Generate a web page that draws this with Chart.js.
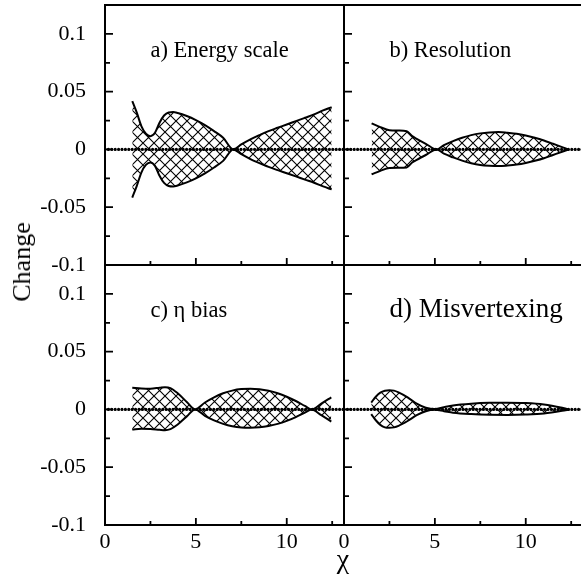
<!DOCTYPE html>
<html>
<head>
<meta charset="utf-8">
<script src="https://cdn.jsdelivr.net/npm/chart.js@4.4.0/dist/chart.umd.min.js"></script>
<style>
  body { margin: 0; background: #fff; width: 581px; height: 583px; overflow: hidden; position: relative; }
  canvas.panel { position: absolute; left: 0; top: 0; }
  .lab { position: absolute; font-family: "Liberation Serif", serif; color: #000; white-space: nowrap; }
  #ylab { left: 22px; top: 262px; font-size: 26px; transform: translate(-50%, -50%) rotate(-90deg); }
  #xlab { left: 343px; top: 559px; font-size: 28px; transform: translate(-50%, -50%); }
</style>
</head>
<body>
<canvas id="pa" class="panel" width="600" height="583"></canvas>
<canvas id="pb" class="panel" width="600" height="583"></canvas>
<canvas id="pc" class="panel" width="600" height="583"></canvas>
<canvas id="pd" class="panel" width="600" height="583"></canvas>
<div id="ylab" class="lab">Change</div>
<div id="xlab" class="lab">χ</div>
<script>
// axis ranges and tick labels
var xMax = 13.15;
var yMin = -0.1, yMax = 0.125;
var xTickValues = [0, 5, 10];
var xTickLabels = ["0", "5", "10"];
var yTickValues = [-0.1, -0.05, 0, 0.05, 0.1];
var yTickLabels = ["-0.1", "-0.05", "0", "0.05", "0.1"];

// dotted zero line
var zeroX = [0, xMax];
var zeroY = [0, 0];

// a) Energy scale
var aX     = [1.5, 1.75, 2.0, 2.25, 2.5, 2.75, 3.0, 3.25, 3.5, 3.75, 4.0, 4.5, 5.0, 5.5, 6.0, 6.5, 7.06, 7.5, 8.0, 8.5, 9.0, 9.5, 10.0, 10.5, 11.0, 11.5, 12.0, 12.47];
var aUpper = [0.0418, 0.0318, 0.0202, 0.0136, 0.0115, 0.0144, 0.0231, 0.0294, 0.0320, 0.0323, 0.0315, 0.0289, 0.0254, 0.0211, 0.0159, 0.0101, 0.0, 0.0043, 0.0087, 0.0124, 0.0159, 0.0188, 0.0216, 0.0245, 0.0274, 0.0303, 0.0338, 0.0366];
var aLower = [-0.0416, -0.0315, -0.0200, -0.0134, -0.0113, -0.0142, -0.0228, -0.0290, -0.0316, -0.0320, -0.0312, -0.0285, -0.0250, -0.0207, -0.0156, -0.0099, 0.0, -0.0041, -0.0083, -0.0118, -0.0151, -0.0179, -0.0206, -0.0233, -0.0261, -0.0288, -0.0320, -0.0346];

// b) Resolution
var bX     = [1.52, 2.0, 2.5, 3.0, 3.45, 3.75, 4.0, 4.5, 5.1, 5.5, 6.0, 6.5, 7.0, 7.5, 8.0, 8.5, 9.0, 9.5, 10.0, 10.5, 11.0, 11.5, 12.0, 12.35];
var bUpper = [0.0225, 0.0193, 0.0167, 0.0164, 0.0158, 0.0115, 0.0092, 0.0049, 0.0, 0.0038, 0.0072, 0.0101, 0.0124, 0.0139, 0.0147, 0.0150, 0.0144, 0.0136, 0.0121, 0.0101, 0.0078, 0.0049, 0.0020, 0.0];
var bLower = [-0.0216, -0.0185, -0.0160, -0.0159, -0.0156, -0.0113, -0.0090, -0.0048, 0.0, -0.0037, -0.0069, -0.0097, -0.0119, -0.0134, -0.0141, -0.0144, -0.0139, -0.0131, -0.0117, -0.0098, -0.0076, -0.0048, -0.0020, 0.0];

// c) eta bias
var cX     = [1.5, 2.0, 2.5, 3.0, 3.3, 3.6, 4.0, 4.5, 4.95, 5.5, 6.0, 6.5, 7.0, 7.5, 8.0, 8.5, 9.0, 9.5, 10.0, 10.5, 11.0, 11.36, 11.9, 12.45];
var cUpper = [0.0188, 0.0182, 0.0180, 0.0188, 0.0193, 0.0185, 0.0140, 0.0065, 0.0, 0.0060, 0.0105, 0.0140, 0.0163, 0.0176, 0.0179, 0.0174, 0.0161, 0.0140, 0.0110, 0.0073, 0.0030, 0.0, 0.0050, 0.0105];
var cLower = [-0.0173, -0.0168, -0.0170, -0.0176, -0.0179, -0.0170, -0.0130, -0.0060, 0.0, -0.0055, -0.0095, -0.0125, -0.0146, -0.0157, -0.0159, -0.0155, -0.0143, -0.0125, -0.0099, -0.0066, -0.0027, 0.0, -0.0050, -0.0105];

// d) Misvertexing
var dX     = [1.5, 1.75, 2.0, 2.25, 2.5, 2.75, 3.0, 3.5, 4.0, 4.5, 5.0, 5.5, 6.0, 7.0, 8.0, 9.0, 10.0, 11.0, 12.0, 12.4];
var dUpper = [0.0060, 0.0110, 0.0145, 0.0162, 0.0167, 0.0163, 0.0148, 0.0105, 0.0050, 0.0015, 0.0003, 0.0020, 0.0035, 0.0050, 0.0057, 0.0058, 0.0055, 0.0043, 0.0015, 0.0];
var dLower = [-0.0040, -0.0095, -0.0135, -0.0155, -0.0159, -0.0155, -0.0142, -0.0100, -0.0050, -0.0015, -0.0003, -0.0015, -0.0028, -0.0040, -0.0046, -0.0047, -0.0044, -0.0035, -0.0012, 0.0];

var titles = ["a) Energy scale", "b) Resolution", "c) \u03b7 bias", "d) Misvertexing"];

var FONT = '"Liberation Serif", serif';

// cross hatch pattern
function makeHatch() {
  var s = 11;
  var c = document.createElement("canvas");
  c.width = s; c.height = s;
  var g = c.getContext("2d");
  g.strokeStyle = "#000";
  g.lineWidth = 1.1;
  g.beginPath();
  g.moveTo(-1, -1); g.lineTo(s + 1, s + 1);
  g.moveTo(s + 1, -1); g.lineTo(-1, s + 1);
  g.stroke();
  return g.createPattern(c, "repeat");
}
var hatch = makeHatch();

function near(a, b) { return Math.abs(a - b) < 1e-6; }

var panelDeco = {
  id: "panelDeco",
  afterDraw: function (chart, args, o) {
    var ctx = chart.ctx, a = chart.chartArea, xs = chart.scales.x, ys = chart.scales.y;
    ctx.save();
    ctx.strokeStyle = "#000";
    ctx.lineWidth = 1.8;
    ctx.beginPath();
    xs.ticks.forEach(function (t) {
      var px = xs.getPixelForValue(t.value);
      var len = near(t.value % 5, 0) || near(t.value % 5, 5) ? 7 : 4;
      ctx.moveTo(px, a.bottom); ctx.lineTo(px, a.bottom - len);
    });
    ys.ticks.forEach(function (t) {
      var py = ys.getPixelForValue(t.value);
      var len = Math.abs(Math.round(t.value * 40)) % 2 === 0 ? 8 : 5;
      ctx.moveTo(a.left, py); ctx.lineTo(a.left + len, py);
    });
    ctx.stroke();
    if (o.top) {
      ctx.lineWidth = 2;
      ctx.beginPath();
      ctx.moveTo(a.left - 1, a.top); ctx.lineTo(a.right, a.top);
      ctx.stroke();
    }
    ctx.fillStyle = "#000";
    ctx.font = o.size + "px " + FONT;
    ctx.textBaseline = "alphabetic";
    ctx.fillText(o.title, xs.getPixelForValue(o.tx), ys.getPixelForValue(o.ty));
    ctx.restore();
  }
};

function makePanel(id, xs, upper, lower, p) {
  var left = p.right ? 344 : 105;
  var right = left + 239;
  var top = p.bottom ? 265 : 5;
  var yw = p.right ? 0 : 105;
  var xh = p.bottom ? 58 : 318;
  return new Chart(document.getElementById(id), {
    type: "line",
    data: {
      datasets: [
        {
          data: xs.map(function (x, i) { return { x: x, y: upper[i] }; }),
          borderColor: "#000", borderWidth: 2, pointRadius: 0,
          cubicInterpolationMode: "monotone",
          fill: "+1", backgroundColor: hatch
        },
        {
          data: xs.map(function (x, i) { return { x: x, y: lower[i] }; }),
          borderColor: "#000", borderWidth: 2, pointRadius: 0,
          cubicInterpolationMode: "monotone",
          fill: false
        },
        {
          data: zeroX.map(function (x, i) { return { x: x, y: zeroY[i] }; }),
          borderColor: "#000", borderWidth: 3.2, borderDash: [0, 3.4],
          borderCapStyle: "round", pointRadius: 0, fill: false, order: -1
        }
      ]
    },
    options: {
      responsive: false,
      animation: false,
      devicePixelRatio: 1,
      layout: { padding: { left: left - yw, top: top, right: 600 - right, bottom: 583 - top - 260 - xh } },
      plugins: {
        legend: { display: false },
        tooltip: { enabled: false },
        panelDeco: { top: !p.bottom, title: p.title, size: p.size, tx: 2.5, ty: 0.08 }
      },
      scales: {
        x: {
          type: "linear", min: 0, max: xMax,
          grid: { display: false, drawTicks: false },
          border: { display: true, color: "#000", width: 2 },
          ticks: {
            display: !!p.bottom, stepSize: 2.5, includeBounds: false, autoSkip: false,
            maxRotation: 0, padding: 4, color: "#000", font: { family: FONT, size: 22 },
            callback: function (v) {
              for (var i = 0; i < xTickValues.length; i++) if (near(v, xTickValues[i])) return xTickLabels[i];
              return "";
            }
          },
          afterFit: function (s) { s.height = xh; s.paddingLeft = 0; s.paddingRight = 0; }
        },
        y: {
          type: "linear", min: yMin, max: yMax,
          grid: { display: false, drawTicks: false },
          border: { display: true, color: "#000", width: 2 },
          ticks: {
            display: !p.right, stepSize: 0.025, autoSkip: false,
            padding: 19, color: "#000", font: { family: FONT, size: 22 },
            callback: function (v) {
              for (var i = 0; i < yTickValues.length; i++) if (near(v, yTickValues[i])) return yTickLabels[i];
              return "";
            }
          },
          afterFit: function (s) { s.width = yw; s.paddingTop = 0; s.paddingBottom = 0; }
        }
      }
    },
    plugins: [panelDeco]
  });
}

makePanel("pa", aX, aUpper, aLower, { right: false, bottom: false, title: titles[0], size: 22.5 });
makePanel("pb", bX, bUpper, bLower, { right: true, bottom: false, title: titles[1], size: 22.5 });
makePanel("pc", cX, cUpper, cLower, { right: false, bottom: true, title: titles[2], size: 22.5 });
makePanel("pd", dX, dUpper, dLower, { right: true, bottom: true, title: titles[3], size: 27 });
</script>
</body>
</html>
